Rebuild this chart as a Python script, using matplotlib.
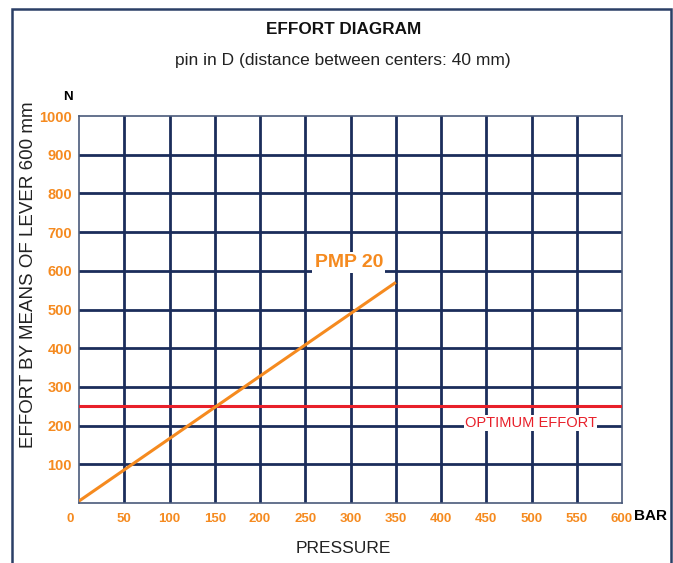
import matplotlib.pyplot as plt
from matplotlib.patches import Rectangle
from matplotlib.transforms import ScaledTranslation

# data
pressure = [0, 350]          # BAR
effort = [5, 570]            # N
optimum = 250
x_ticks = list(range(0, 650, 50))
y_ticks = list(range(100, 1100, 100))

navy = '#1b2d5b'
orange = '#f58a1f'
red = '#e8202a'

plt.rcParams['font.family'] = ['Liberation Sans', 'DejaVu Sans']

fig = plt.figure(figsize=(6.73, 5.63), dpi=100)
ax = fig.add_axes([79 / 673, 60 / 563, 543 / 673, 387 / 563])

ax.set_xlim(0, 600)
ax.set_ylim(0, 1000)

# grid
for x in x_ticks[1:-1]:
    ax.axvline(x, color=navy, lw=2.0, zorder=1)
for y in y_ticks[:-1]:
    ax.axhline(y, color=navy, lw=2.0, zorder=1)
for s in ax.spines.values():
    s.set_color('#4a5a7a')
    s.set_linewidth(1.2)

# lines
ax.axhline(optimum, color=red, lw=2.2, zorder=3)
ax.plot(pressure, effort, color=orange, lw=2.2, zorder=4, solid_capstyle='butt')

ax.text(298, 621, 'PMP 20', color=orange, fontsize=14, fontweight='bold',
        ha='center', va='center', zorder=5,
        bbox=dict(facecolor='white', edgecolor='none', pad=1.5))
ax.text(499, 207, 'OPTIMUM EFFORT', color=red, fontsize=10.5,
        ha='center', va='center', zorder=5,
        bbox=dict(facecolor='white', edgecolor='none', pad=0.5))

# ticks
ax.set_xticks(x_ticks)
ax.set_yticks(y_ticks)
ax.tick_params(length=0, colors=orange)
ax.tick_params(axis='x', labelsize=9.5, pad=7)
ax.tick_params(axis='y', labelsize=10.5, pad=5)
for lab in ax.get_xticklabels() + ax.get_yticklabels():
    lab.set_fontweight('bold')
    lab.set_color(orange)
# the "0" label sits a little left of the axis in the original
zero = ax.get_xticklabels()[0]
zero.set_transform(zero.get_transform() + ScaledTranslation(-0.09, 0, fig.dpi_scale_trans))

# texts
fig.text(0.51, 0.947, 'EFFORT DIAGRAM', fontsize=12.3, fontweight='bold',
         ha='center', va='center', color='#111111')
fig.text(0.51, 0.893, 'pin in D (distance between centers: 40 mm)', fontsize=12.5,
         ha='center', va='center', color='#222222')
fig.text(0.101, 0.828, 'N', fontsize=9.5, fontweight='bold', ha='center', va='center')
fig.text(0.966, 0.084, 'BAR', fontsize=11, fontweight='bold', ha='center', va='center')
fig.text(0.51, 0.025, 'PRESSURE', fontsize=12.5, ha='center', va='center', color='#222222')
fig.text(0.042, 0.512, 'EFFORT BY MEANS OF LEVER 600 mm', fontsize=13.5, rotation=90,
         ha='center', va='center', color='#222222')

# outer frame
fig.patches.append(Rectangle((12 / 673, -0.1), 659 / 673, 1.1 - 9 / 563,
                             transform=fig.transFigure, fill=False,
                             edgecolor='#2b3f66', lw=1.8))

fig.savefig('out.png', dpi=100)
